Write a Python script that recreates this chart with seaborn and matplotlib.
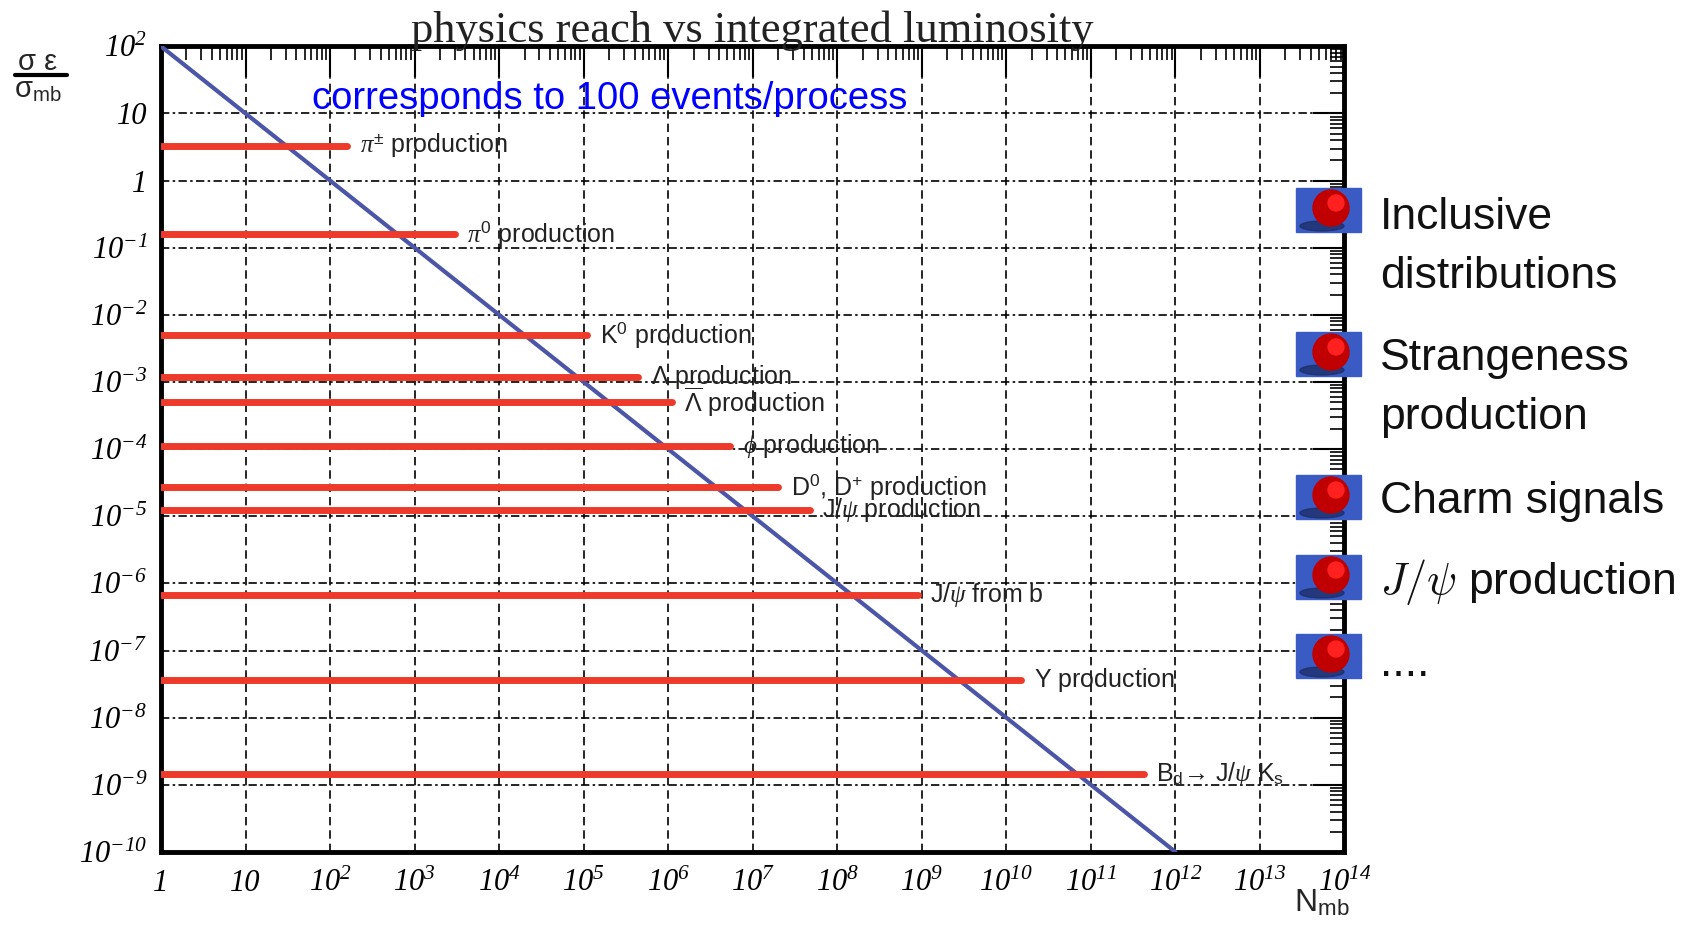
import numpy as np
import pandas as pd
import matplotlib
matplotlib.use("Agg")
import matplotlib.pyplot as plt
import matplotlib.ticker as mticker
from matplotlib.patches import Rectangle, Circle, Ellipse
from matplotlib.lines import Line2D
import seaborn as sns

# --- data ---
process_labels = [
    r"$\pi^{\pm}$ production",
    r"$\pi^{\mathrm{0}}$ production",
    r"K$^{\mathrm{0}}$ production",
    r"$\Lambda$ production",
    r"$\overline{\Lambda}$ production",
    r"$\phi$ production",
    r"D$^{\mathrm{0}}$, D$^{+}$ production",
    r"J/$\psi$ production",
    r"J/$\psi$ from b",
    r"$\Upsilon$ production",
    r"B$_{\mathrm{d}}$→ J/$\psi$ K$_{\mathrm{s}}$",
]
sigma_eff = [3.3, 0.16, 5.0e-3, 1.2e-3, 5.0e-4, 1.1e-4, 2.7e-5, 1.25e-5, 6.6e-7, 3.7e-8, 1.45e-9]
n_reach = [1.6e2, 3.0e3, 1.1e5, 4.4e5, 1.1e6, 5.4e6, 2.0e7, 4.7e7, 9.0e8, 1.5e10, 4.2e11]

n_events = 100
n_line = [1.0, 1.0e12]

x_ticks = [10.0 ** k for k in range(0, 15)]
x_ticklabels = ["1", "10"] + [r"$\mathcal{10}^{\mathcal{%d}}$" % k for k in range(2, 15)]
y_ticks = [10.0 ** k for k in range(-10, 3)]
y_ticklabels = [r"$\mathcal{10}^{\mathcal{%d}}$" % k for k in range(-10, 0)] + ["1", "10", r"$\mathcal{10}^{\mathcal{2}}$"]

bullet_texts = ["Inclusive\ndistributions", "Strangeness\nproduction", "Charm signals",
                r"$J/\psi$ production", "...."]

sns.set_theme(style="white")
plt.rcParams["font.family"] = ["Liberation Sans", "DejaVu Sans"]
plt.rcParams["mathtext.fontset"] = "custom"
plt.rcParams["mathtext.rm"] = "Liberation Sans"
plt.rcParams["mathtext.it"] = "Liberation Serif:italic"
plt.rcParams["mathtext.sf"] = "Liberation Sans"
plt.rcParams["mathtext.cal"] = "Liberation Serif:italic"

fig = plt.figure(figsize=(16.98, 9.26), dpi=100)
ax = fig.add_axes([0.0948, 0.080, 0.697, 0.870])
ax.set_xscale("log")
ax.set_yscale("log")

red = "#ee3a2a"
blue = "#4b56a8"

# 100 events line
diag = pd.DataFrame({"N": n_line, "s": [n_events / n for n in n_line]})
sns.lineplot(data=diag, x="N", y="s", ax=ax, color=blue, lw=3, zorder=3)

# processes
for lab, s, n in zip(process_labels, sigma_eff, n_reach):
    seg = pd.DataFrame({"N": [1.0, n], "s": [s, s]})
    sns.lineplot(data=seg, x="N", y="s", ax=ax, color=red, lw=5, zorder=4)
    ax.annotate(lab, xy=(n, s), xytext=(9, 0), textcoords="offset points",
                va="center", ha="left", fontsize=18, color="#222222", zorder=5)

ax.set_xlim(1, 1e14)
ax.set_ylim(1e-10, 1e2)
ax.set_xlabel("")
ax.set_ylabel("")

ax.set_xticks(x_ticks)
ax.set_xticklabels(x_ticklabels)
ax.set_yticks(y_ticks)
ax.set_yticklabels(y_ticklabels)
ax.xaxis.set_minor_locator(mticker.LogLocator(base=10, subs=np.arange(2, 10), numticks=100))
ax.yaxis.set_minor_locator(mticker.LogLocator(base=10, subs=np.arange(2, 10), numticks=100))
ax.xaxis.set_minor_formatter(mticker.NullFormatter())
ax.yaxis.set_minor_formatter(mticker.NullFormatter())
for lbl in ax.get_xticklabels() + ax.get_yticklabels():
    lbl.set_family("Liberation Serif")
    lbl.set_style("italic")
    lbl.set_fontsize(22)
    lbl.set_color("#1a1a1a")

ax.tick_params(which="both", direction="in", top=True, right=True, colors="black")
ax.tick_params(which="major", length=22, width=1.5)
ax.tick_params(which="minor", length=10, width=1.2)
ax.tick_params(axis="x", pad=12)
ax.tick_params(axis="y", pad=10)

for sp in ax.spines.values():
    sp.set_visible(True)
    sp.set_color("black")
    sp.set_linewidth(3.5)

ax.grid(True, which="major", axis="x", color="black", lw=1.2, linestyle=(0, (5, 3)))
ax.grid(True, which="major", axis="y", color="black", lw=1.2, linestyle=(0, (5, 2, 1.5, 2)))

ax.set_title("physics reach vs integrated luminosity", fontsize=32,
             family="Liberation Serif", color="#222222", pad=3)

ax.text(0.128, 0.934, "corresponds to 100 events/process", transform=ax.transAxes,
        color="#0000ff", fontsize=27.5, va="center", ha="left")

# y label as fraction
fig.text(38 / 1698, 1 - 62 / 926, "σ ε", fontsize=21, ha="center", va="center")
fig.add_artist(Line2D([15 / 1698, 67 / 1698], [1 - 75 / 926, 1 - 75 / 926],
                      transform=fig.transFigure, color="black", lw=3))
fig.text(38 / 1698, 1 - 90 / 926, r"σ$_{\mathrm{mb}}$", fontsize=21, ha="center", va="center")

# x label
fig.text(1322 / 1698, 1 - 903 / 926, r"N$_{\mathrm{mb}}$", fontsize=23, ha="center", va="center")

# bullets on the right
ov = fig.add_axes([0, 0, 1, 1], zorder=10)
ov.set_xlim(0, 1698)
ov.set_ylim(926, 0)
ov.axis("off")
bullet_y = [210, 354, 497, 577, 656]
text_y = [247, 388, 501, 582, 664]
for by, ty, txt in zip(bullet_y, text_y, bullet_texts):
    ov.add_patch(Rectangle((1296, by - 22), 65, 44, color="#3b5bc4"))
    ov.add_patch(Ellipse((1322, by + 16), 44, 10, color="#1a2a60", alpha=0.7))
    ov.add_patch(Circle((1331, by - 2), 18, color="#c00000"))
    ov.add_patch(Circle((1336, by - 7), 8, color="#ff2020"))
    ov.text(1380, ty, txt, fontsize=32, va="center", ha="left", linespacing=1.55,
            math_fontfamily="cm", color="#111111")

fig.savefig("out.png", dpi=100)
